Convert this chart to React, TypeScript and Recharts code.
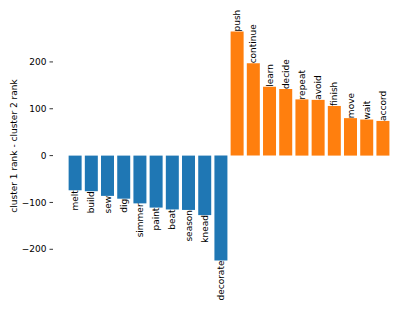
import React from "react";
import { BarChart, Bar, XAxis, YAxis, Cell, LabelList } from "recharts";

const WORDS = [
  "melt", "build", "sew", "dig", "simmer", "paint", "beat", "season", "knead", "decorate",
  "push", "continue", "learn", "decide", "repeat", "avoid", "finish", "move", "wait", "accord",
];
const DIFFS = [
  -74, -76, -86, -92, -102, -111, -115, -116, -127, -224,
  265, 197, 147, 142, 120, 119, 106, 80, 77, 74,
];
const Y_TICKS = [-200, -100, 0, 100, 200];

const BLUE = "#1f77b4";
const ORANGE = "#ff7f0e";
const FONT = "DejaVu Sans, sans-serif";

const data = WORDS.map((word, i) => ({ word, diff: DIFFS[i] }));

// word label sitting on the end of each bar, rotated like matplotlib's rotation=90
const BarWord = (props: any) => {
  const { x, y, width, height, value, index } = props;
  const top = Math.min(y, y + height);
  const bottom = Math.max(y, y + height);
  const cx = x + width / 2;
  const pos = value >= 0;
  const ay = pos ? top : bottom;
  return (
    <text
      x={cx}
      y={ay}
      transform={`rotate(-90 ${cx} ${ay})`}
      textAnchor={pos ? "start" : "end"}
      dominantBaseline="central"
      fontFamily={FONT}
      fontSize={9}
      fill="#000"
    >
      {WORDS[index]}
    </text>
  );
};

const YTitle = (props: any) => {
  const vb = props.viewBox || { x: 0, y: 0, width: 0, height: 0 };
  const cx = vb.x + 14;
  const cy = vb.y + vb.height / 2;
  return (
    <text
      x={cx}
      y={cy}
      transform={`rotate(-90 ${cx} ${cy})`}
      textAnchor="middle"
      dominantBaseline="central"
      fontFamily={FONT}
      fontSize={9}
      fill="#000"
    >
      cluster 1 rank - cluster 2 rank
    </text>
  );
};

export default function App() {
  return (
    <div style={{ position: "absolute", left: 0, top: 0, background: "#fff" }}>
      <BarChart
        width={415}
        height={311}
        data={data}
        margin={{ top: 20, right: 10, bottom: 39, left: 0 }}
        barCategoryGap="10%"
      >
        <XAxis dataKey="word" hide padding={{ left: 14, right: 14 }} />
        <YAxis
          width={53}
          type="number"
          domain={[-248.5, 289.5]}
          ticks={Y_TICKS}
          allowDataOverflow
          axisLine={false}
          tickSize={3.5}
          tickMargin={3}
          tickLine={{ stroke: "#000", strokeWidth: 0.8 }}
          tick={{ fontFamily: FONT, fontSize: 9, fill: "#000" }}
          tickFormatter={(v: number) => String(v).replace("-", "\u2212")}
          label={{ content: YTitle }}
        />
        <Bar dataKey="diff" isAnimationActive={false}>
          {data.map((d, i) => (
            <Cell key={`cell-${i}`} fill={d.diff < 0 ? BLUE : ORANGE} />
          ))}
          <LabelList dataKey="diff" content={BarWord} />
        </Bar>
      </BarChart>
    </div>
  );
}
